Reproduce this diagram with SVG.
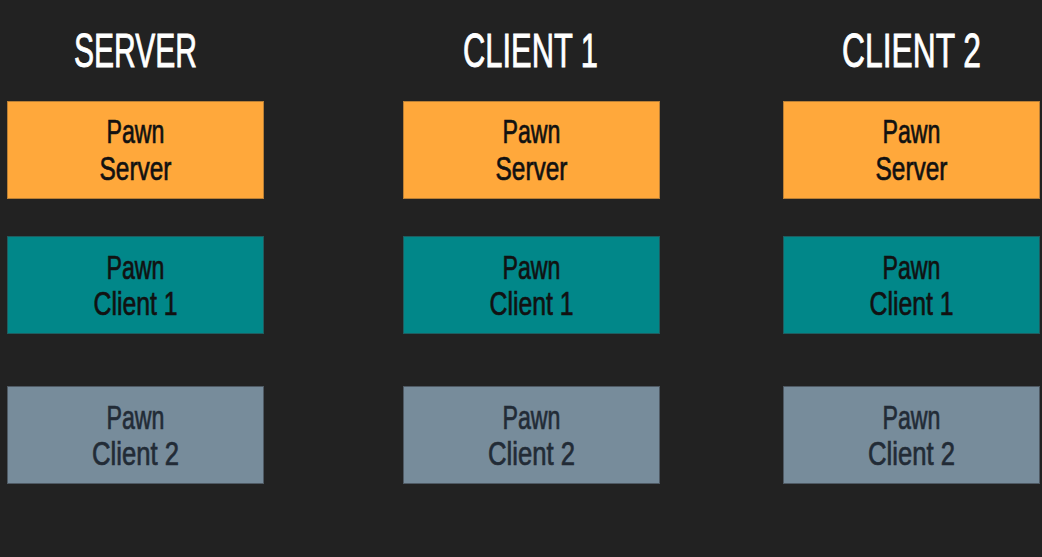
<svg xmlns="http://www.w3.org/2000/svg" width="1042" height="557" viewBox="0 0 1042 557">
<style>
.bg{fill:#222222}
.hdr{font-family:"Liberation Sans",Arial,sans-serif;font-size:49px;fill:#ffffff;text-anchor:middle;stroke:#ffffff;stroke-width:0.9px}
.lbl{font-family:"Liberation Sans",Arial,sans-serif;font-size:33px;text-anchor:middle;stroke-width:0.7px}
.srv rect{fill:#ffa83b;stroke:#b97f35;stroke-width:1}
.c1 rect{fill:#018789;stroke:#1f5d60;stroke-width:1}
.c2 rect{fill:#778c9b;stroke:#4f5a64;stroke-width:1}
.srv text,.c1 text{fill:#111111;stroke:#111111}
.c2 text{fill:#222b36;stroke:#222b36}
</style>
<rect class="bg" x="0" y="0" width="1042" height="557"/>
<g id="headers">
<text class="hdr" x="135.5" y="67" textLength="123" lengthAdjust="spacingAndGlyphs">SERVER</text>
<text class="hdr" x="530.5" y="67" textLength="135" lengthAdjust="spacingAndGlyphs">CLIENT 1</text>
<text class="hdr" x="911.5" y="67" textLength="139" lengthAdjust="spacingAndGlyphs">CLIENT 2</text>
</g>
<g id="connectors"></g>
<g id="server-pawn-server" class="srv">
<rect x="7.5" y="101.5" width="256" height="97"/>
<text class="lbl" x="135.5" y="143" textLength="58" lengthAdjust="spacingAndGlyphs">Pawn</text>
<text class="lbl" x="135.5" y="180" textLength="72" lengthAdjust="spacingAndGlyphs">Server</text>
</g>
<g id="server-pawn-client1" class="c1">
<rect x="7.5" y="236.5" width="256" height="97"/>
<text class="lbl" x="135.5" y="279" textLength="58" lengthAdjust="spacingAndGlyphs">Pawn</text>
<text class="lbl" x="135.5" y="315" textLength="84" lengthAdjust="spacingAndGlyphs">Client 1</text>
</g>
<g id="server-pawn-client2" class="c2">
<rect x="7.5" y="386.5" width="256" height="97"/>
<text class="lbl" x="135.5" y="429" textLength="58" lengthAdjust="spacingAndGlyphs">Pawn</text>
<text class="lbl" x="135.5" y="465" textLength="87" lengthAdjust="spacingAndGlyphs">Client 2</text>
</g>
<g id="client1-pawn-server" class="srv">
<rect x="403.5" y="101.5" width="256" height="97"/>
<text class="lbl" x="531.5" y="143" textLength="58" lengthAdjust="spacingAndGlyphs">Pawn</text>
<text class="lbl" x="531.5" y="180" textLength="72" lengthAdjust="spacingAndGlyphs">Server</text>
</g>
<g id="client1-pawn-client1" class="c1">
<rect x="403.5" y="236.5" width="256" height="97"/>
<text class="lbl" x="531.5" y="279" textLength="58" lengthAdjust="spacingAndGlyphs">Pawn</text>
<text class="lbl" x="531.5" y="315" textLength="84" lengthAdjust="spacingAndGlyphs">Client 1</text>
</g>
<g id="client1-pawn-client2" class="c2">
<rect x="403.5" y="386.5" width="256" height="97"/>
<text class="lbl" x="531.5" y="429" textLength="58" lengthAdjust="spacingAndGlyphs">Pawn</text>
<text class="lbl" x="531.5" y="465" textLength="87" lengthAdjust="spacingAndGlyphs">Client 2</text>
</g>
<g id="client2-pawn-server" class="srv">
<rect x="783.5" y="101.5" width="256" height="97"/>
<text class="lbl" x="911.5" y="143" textLength="58" lengthAdjust="spacingAndGlyphs">Pawn</text>
<text class="lbl" x="911.5" y="180" textLength="72" lengthAdjust="spacingAndGlyphs">Server</text>
</g>
<g id="client2-pawn-client1" class="c1">
<rect x="783.5" y="236.5" width="256" height="97"/>
<text class="lbl" x="911.5" y="279" textLength="58" lengthAdjust="spacingAndGlyphs">Pawn</text>
<text class="lbl" x="911.5" y="315" textLength="84" lengthAdjust="spacingAndGlyphs">Client 1</text>
</g>
<g id="client2-pawn-client2" class="c2">
<rect x="783.5" y="386.5" width="256" height="97"/>
<text class="lbl" x="911.5" y="429" textLength="58" lengthAdjust="spacingAndGlyphs">Pawn</text>
<text class="lbl" x="911.5" y="465" textLength="87" lengthAdjust="spacingAndGlyphs">Client 2</text>
</g>
</svg>
